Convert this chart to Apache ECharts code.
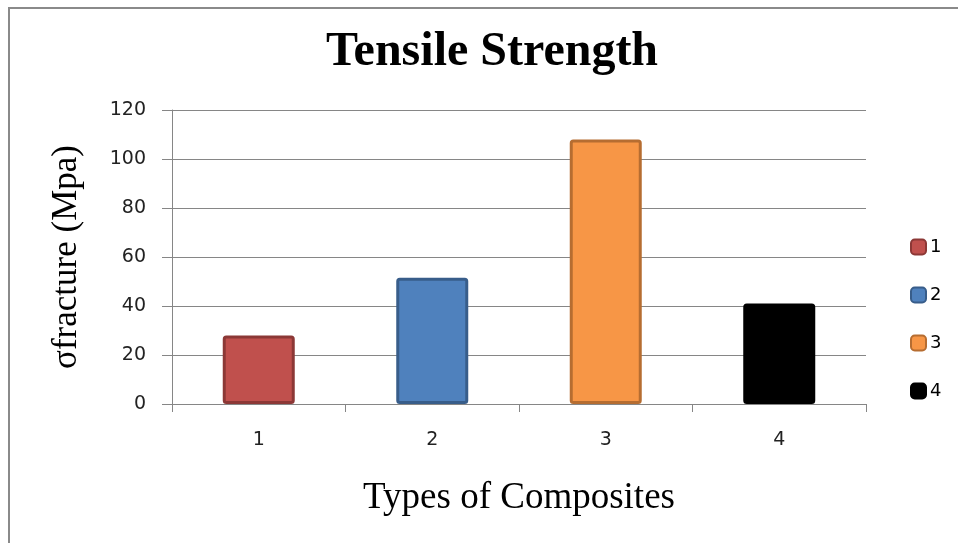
<!DOCTYPE html>
<html>
<head>
<meta charset="utf-8">
<script src="https://cdn.jsdelivr.net/npm/echarts@6/dist/echarts.min.js"></script>
<style>
html,body{margin:0;padding:0;background:#fff;}
#chart{width:958px;height:543px;}
</style>
</head>
<body>
<div id="chart"></div>
<script>
const categories = ['1', '2', '3', '4'];
const seriesNames = ['1', '2', '3', '4'];
const values = [28, 51.5, 108, 41];
const fillColors = ['#c0504d', '#4f81bd', '#f79646', '#000000'];
const borderColors = ['#8c3836', '#385d8a', '#b66d31', '#000000'];
const yTicks = { min: 0, max: 120, interval: 20 };

const chart = echarts.init(document.getElementById('chart'));

const series = seriesNames.map((name, i) => ({
  name: name,
  type: 'bar',
  barWidth: 72,
  barGap: '-100%',
  data: categories.map((c, j) => (j === i ? values[i] : '-')),
  itemStyle: {
    color: fillColors[i],
    borderColor: borderColors[i],
    borderWidth: 3,
    borderRadius: 2
  }
}));

chart.setOption({
  animation: false,
  backgroundColor: '#ffffff',
  graphic: [{
    type: 'rect',
    shape: { x: 9, y: 8, width: 1000, height: 600 },
    style: { fill: 'none', stroke: '#8a8a8a', lineWidth: 2 },
    silent: true
  }],
  title: {
    text: 'Tensile Strength',
    left: 321,
    top: 24,
    textStyle: {
      fontFamily: 'Liberation Serif',
      fontWeight: 'bold',
      fontSize: 48,
      color: '#000'
    }
  },
  legend: {
    orient: 'vertical',
    left: 905,
    top: 233,
    itemWidth: 15,
    itemHeight: 15,
    itemGap: 30,
    icon: 'roundRect',
    textStyle: { fontFamily: 'DejaVu Sans', fontSize: 18, color: '#000', padding: [0, 0, 0, -1] },
    data: seriesNames
  },
  grid: { left: 172, right: 92, top: 110, bottom: 139 },
  xAxis: {
    type: 'category',
    data: categories,
    name: 'Types of Composites',
    nameLocation: 'middle',
    nameGap: 76,
    nameTextStyle: { fontFamily: 'Liberation Serif', fontSize: 37, color: '#000' },
    axisLine: { show: true, lineStyle: { color: '#868686', width: 1 } },
    axisTick: { show: true, length: 8, alignWithLabel: false, lineStyle: { color: '#868686' } },
    axisLabel: { fontFamily: 'DejaVu Sans', fontSize: 19, color: '#222', margin: 27 }
  },
  yAxis: {
    type: 'value',
    min: yTicks.min,
    max: yTicks.max,
    interval: yTicks.interval,
    name: 'σfracture (Mpa)',
    nameLocation: 'middle',
    nameGap: 88,
    nameTextStyle: { fontFamily: 'Liberation Serif', fontSize: 35, color: '#000' },
    axisLine: { show: true, lineStyle: { color: '#868686', width: 1 } },
    axisTick: { show: true, inside: false, length: 10, lineStyle: { color: '#868686' } },
    axisLabel: { fontFamily: 'DejaVu Sans', fontSize: 19, color: '#222', margin: 26 },
    splitLine: { show: true, lineStyle: { color: '#868686', width: 1 } }
  },
  series: series
});
</script>
</body>
</html>
